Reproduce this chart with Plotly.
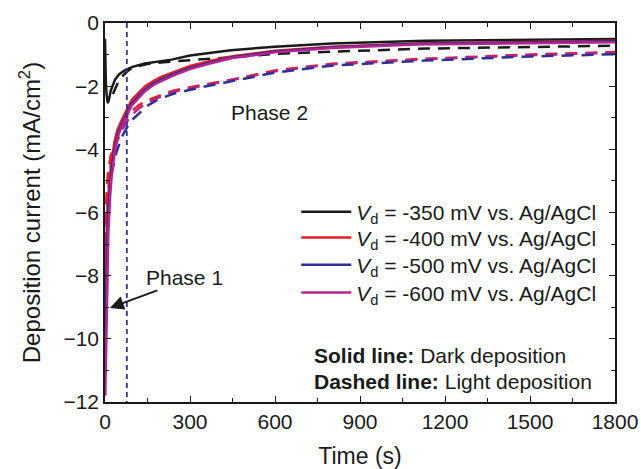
import plotly.graph_objects as go

# ---------------- data ----------------
t_black_solid = [0, 1, 3, 6, 10, 14, 20, 35, 50, 71, 100, 141, 200, 235, 300, 444, 600, 800, 1130, 1500, 1800]
i_black_solid = [-0.5, -1.2, -1.9, -2.3, -2.54, -2.42, -2.15, -1.8, -1.62, -1.49, -1.38, -1.28, -1.2, -1.16, -1.03, -0.86, -0.75, -0.65, -0.56, -0.53, -0.51]

t_black_dash = [28, 35, 45, 60, 80, 100, 150, 206, 300, 420, 600, 800, 1130, 1500, 1800]
i_black_dash = [-2.25, -2.12, -1.9, -1.7, -1.52, -1.4, -1.3, -1.24, -1.18, -1.1, -0.98, -0.91, -0.81, -0.76, -0.72]

t_col = [1, 4, 8, 12, 18, 23, 35, 45, 59, 78, 94, 120, 141, 170, 200, 247, 300, 370, 450, 600, 800, 1100, 1500, 1800]
i_red_solid = [-8.5, -7.0, -6.0, -5.4, -4.75, -4.34, -3.7, -3.35, -3.07, -2.7, -2.44, -2.2, -2.01, -1.84, -1.7, -1.54, -1.36, -1.2, -1.05, -0.88, -0.75, -0.65, -0.59, -0.56]
i_blue_solid = [-10.5, -8.5, -6.8, -5.9, -5.1, -4.6, -3.9, -3.5, -3.2, -2.82, -2.55, -2.3, -2.1, -1.92, -1.78, -1.6, -1.42, -1.25, -1.08, -0.9, -0.77, -0.66, -0.61, -0.58]
i_mag_solid = [-11.8, -10.0, -8.0, -6.6, -5.5, -4.9, -4.05, -3.6, -3.28, -2.9, -2.62, -2.36, -2.16, -1.97, -1.83, -1.64, -1.46, -1.28, -1.11, -0.93, -0.79, -0.68, -0.63, -0.61]

t_col_dash = [1, 5, 10, 20, 40, 60, 89, 120, 150, 183, 241, 337, 455, 600, 800, 1130, 1500, 1800]
i_red_dash = [-7.0, -5.5, -4.8, -4.2, -3.6, -3.25, -2.83, -2.6, -2.44, -2.33, -2.14, -1.97, -1.78, -1.5, -1.29, -1.13, -1.0, -0.92]
i_blue_dash = [-10.5, -7.5, -6.0, -4.9, -4.1, -3.6, -3.12, -2.85, -2.62, -2.44, -2.24, -2.04, -1.82, -1.57, -1.35, -1.19, -1.06, -0.99]
i_mag_dash = [-9.0, -6.5, -5.4, -4.5, -3.8, -3.4, -2.95, -2.7, -2.52, -2.38, -2.18, -2.0, -1.8, -1.53, -1.31, -1.15, -1.02, -0.94]

legend_labels = ["-350", "-400", "-500", "-600"]
x_ticks = [0, 300, 600, 900, 1200, 1500, 1800]
y_ticks = [0, -2, -4, -6, -8, -10, -12]
t_phase_line = 77

BLACK = "#1a1a1a"
RED = "#ed1c24"
BLUE = "#2e3192"
MAG = "#b5248f"
FONT = "Liberation Sans, Arial, sans-serif"

fig = go.Figure()

# dashed (light deposition) lines, not in legend
for t, i, c in [(t_black_dash, i_black_dash, BLACK), (t_col_dash, i_red_dash, RED),
                (t_col_dash, i_mag_dash, MAG), (t_col_dash, i_blue_dash, BLUE)]:
    fig.add_trace(go.Scatter(x=t, y=i, mode="lines", showlegend=False,
                             line=dict(color=c, width=2.5, dash="12px,8px")))

# solid (dark deposition) lines, each in its own legend box (for exact spacing)
solids = [(t_black_solid, i_black_solid, BLACK), (t_col, i_red_solid, RED),
          (t_col, i_blue_solid, BLUE), (t_col, i_mag_solid, MAG)]
legend_ids = ["legend", "legend2", "legend3", "legend4"]
for (t, i, c), lab, lid in zip(solids, legend_labels, legend_ids):
    fig.add_trace(go.Scatter(x=t, y=i, mode="lines", legend=lid,
                             name=f"<i>V</i><sub>d</sub> = {lab} mV vs. Ag/AgCl",
                             line=dict(color=c, width=2.5)))

# vertical phase separator
fig.add_trace(go.Scatter(x=[t_phase_line, t_phase_line], y=[0, -12], mode="lines",
                         showlegend=False, line=dict(color=BLUE, width=1.8, dash="5px,4px")))

fig.add_annotation(x=582, y=-2.82, text="Phase 2", showarrow=False,
                   font=dict(size=21, color=BLACK, family=FONT))
fig.add_annotation(x=282, y=-8.07, text="Phase 1", showarrow=False,
                   font=dict(size=21, color=BLACK, family=FONT))
fig.add_annotation(x=17, y=-9.02, ax=190, ay=-8.45, axref="x", ayref="y",
                   text="", showarrow=True, arrowhead=2, arrowsize=1.4,
                   arrowwidth=2, arrowcolor=BLACK)

fig.add_annotation(xref="paper", yref="paper", x=0.405, y=0.124, xanchor="left", yanchor="middle",
                   text="<b>Solid line:</b> Dark deposition", showarrow=False,
                   font=dict(size=21, color=BLACK, family=FONT))
fig.add_annotation(xref="paper", yref="paper", x=0.405, y=0.055, xanchor="left", yanchor="middle",
                   text="<b>Dashed line:</b> Light deposition", showarrow=False,
                   font=dict(size=21, color=BLACK, family=FONT))

axis_common = dict(showline=True, linecolor=BLACK, linewidth=1.5, mirror="allticks",
                   ticks="inside", ticklen=6, tickwidth=1.2, tickcolor=BLACK,
                   showgrid=False, zeroline=False, automargin=False,
                   tickfont=dict(size=21, color=BLACK, family=FONT))

fig.update_xaxes(range=[0, 1800], tickvals=x_ticks,
                 title=dict(text="Time (s)", font=dict(size=23, color=BLACK, family=FONT), standoff=18),
                 minor=dict(ticks="inside", dtick=150, ticklen=4, tickcolor=BLACK, tickwidth=1),
                 **axis_common)
fig.update_yaxes(range=[-12, 0], tickvals=y_ticks,
                 title=dict(text="Deposition current (mA/cm<sup>2</sup>)",
                            font=dict(size=24, color=BLACK, family=FONT), standoff=16),
                 minor=dict(ticks="inside", dtick=1, ticklen=4, tickcolor=BLACK, tickwidth=1),
                 **axis_common)

leg_common = dict(x=0.375, xanchor="left", yanchor="middle", bgcolor="rgba(0,0,0,0)",
                  font=dict(size=21, color=BLACK, family=FONT), itemwidth=50)
fig.update_layout(
    width=641, height=469,
    margin=dict(l=105, r=26, t=23, b=67, autoexpand=False),
    paper_bgcolor="white", plot_bgcolor="white",
    font=dict(family=FONT, color=BLACK),
    legend=dict(y=0.501, **leg_common),
    legend2=dict(y=0.433, **leg_common),
    legend3=dict(y=0.361, **leg_common),
    legend4=dict(y=0.288, **leg_common),
)

fig.write_html("out.html")
